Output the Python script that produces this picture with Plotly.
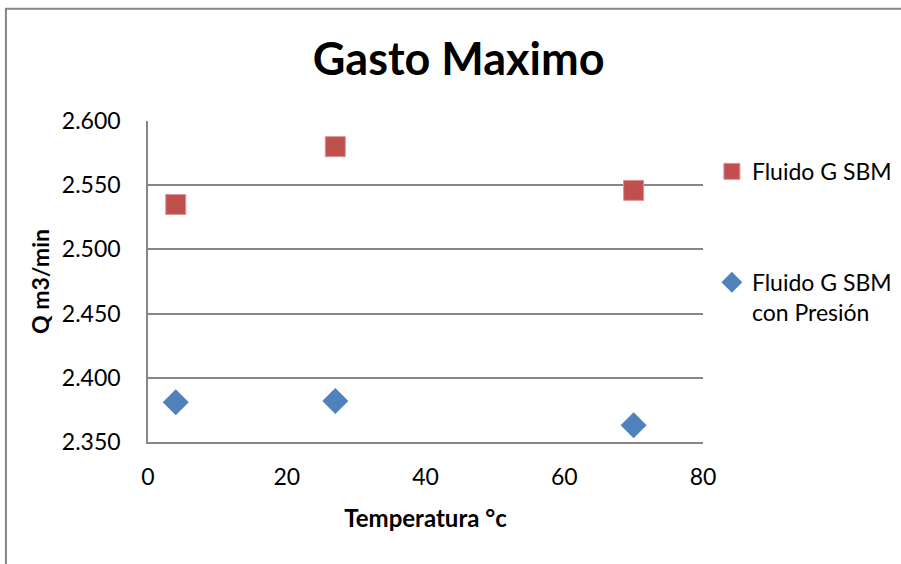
import plotly.graph_objects as go

# datos
temperatura = [4, 27, 70]
gasto_sbm = [2.535, 2.580, 2.546]
gasto_sbm_presion = [2.381, 2.382, 2.363]

x_ticks = [0, 20, 40, 60, 80]
y_ticks = [2.350, 2.400, 2.450, 2.500, 2.550, 2.600]

FONT = "Lato"
GRID = "#868686"

fig = go.Figure()

fig.add_trace(go.Scatter(
    x=temperatura, y=gasto_sbm, mode="markers",
    name="Fluido G SBM", legendgroup="a",
    marker=dict(symbol="square", size=20, color="#C0504D",
                line=dict(width=1, color="#D99694")),
))
fig.add_trace(go.Scatter(
    x=temperatura, y=gasto_sbm_presion, mode="markers",
    name="Fluido G SBM<br>con Presión", legendgroup="b",
    marker=dict(symbol="diamond", size=20, color="#4F81BD",
                line=dict(width=0)),
))

fig.update_layout(
    width=901, height=564,
    paper_bgcolor="white", plot_bgcolor="white",
    margin=dict(l=148, r=198, t=121, b=122, autoexpand=False),
    font=dict(family=FONT, size=23, color="#000000"),
    title=dict(text="<b>Gasto Maximo</b>", x=0.509, xanchor="center",
               xref="container", y=0.895, yanchor="middle",
               font=dict(family=FONT, size=45)),
    legend=dict(x=1.016, y=0.91, xanchor="left", yanchor="top",
                tracegroupgap=78, font=dict(size=23), valign="top",
                bgcolor="rgba(0,0,0,0)"),
    showlegend=True,
)

fig.update_xaxes(
    range=[0, 80], tickvals=x_ticks, showgrid=False, zeroline=False,
    showline=True, linecolor=GRID, linewidth=1.5,
    ticks="", ticklabelstandoff=14,
    title=dict(text="<b>Temperatura °c</b>", font=dict(size=24), standoff=21),
)
fig.update_yaxes(
    range=[2.350, 2.600], tickvals=y_ticks, tickformat=".3f",
    showgrid=True, gridcolor=GRID, gridwidth=1.5, zeroline=False,
    showline=True, linecolor=GRID, linewidth=1.5,
    ticks="", ticklabelstandoff=21,
    title=dict(text="<b>Q m3/min</b>", font=dict(size=23), standoff=6),
)

# marco exterior del grafico
fig.add_shape(type="rect", xref="paper", yref="paper",
              x0=-0.256, x1=1.50, y0=-0.50, y1=1.35,
              line=dict(color="#868686", width=2), fillcolor="rgba(0,0,0,0)",
              layer="below")

fig.write_html("out.html", config={"displayModeBar": False},
               post_script="document.body.style.margin='0';")
